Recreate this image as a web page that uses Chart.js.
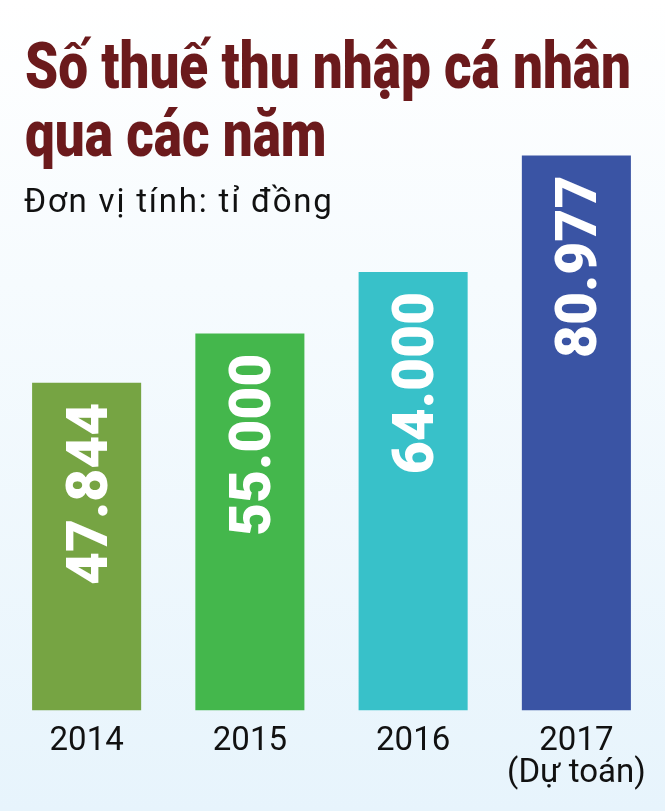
<!DOCTYPE html>
<html lang="vi">
<head>
<meta charset="utf-8">
<title>Số thuế thu nhập cá nhân qua các năm</title>
<script src="https://cdn.jsdelivr.net/npm/chart.js@4.4.1/dist/chart.umd.min.js"></script>
<style>
  html, body { margin: 0; padding: 0; }
  body {
    width: 665px;
    height: 811px;
    overflow: hidden;
    position: relative;
    background: linear-gradient(#ffffff 0%, #f6fbfe 35%, #e7f4fc 100%);
  }
  #title {
    position: absolute;
    left: 25px;
    top: 33px;
    margin: 0;
    font-family: Roboto, sans-serif;
    font-weight: 900;
    font-size: 64px;
    line-height: 68px;
    color: #6b1a1c;
    white-space: nowrap;
    transform-origin: 0 0;
  }
  #subtitle {
    position: absolute;
    left: 24px;
    top: 185px;
    margin: 0;
    font-family: Roboto, sans-serif;
    font-size: 33px;
    line-height: 32px;
    letter-spacing: 1.8px;
    color: #111;
    white-space: nowrap;
  }
  #myChart { position: absolute; left: 0; top: 0; }
</style>
</head>
<body>
<canvas id="myChart" width="665" height="811"></canvas>
<h1 id="title"><span id="line1">Số thuế thu nhập cá nhân</span><br>qua các năm</h1>
<p id="subtitle">Đơn vị tính: tỉ đồng</p>
<script>
'use strict';

// năm (nhãn trục x, dòng thứ hai nếu có)
const years = ['2014', '2015', '2016', '2017'];
const notes = ['', '', '', '(Dự toán)'];
// số thuế TNCN, tỉ đồng
const amounts = [47844, 55000, 64000, 80977];
const barColors = ['#76a443', '#44b74c', '#38c1c9', '#3a54a4'];

// tiêu đề dùng font hẹp: ép dòng đầu vừa ~606px
const line1 = document.getElementById('line1');
const titleEl = document.getElementById('title');
titleEl.style.transform = 'scaleX(' + (606 / line1.getBoundingClientRect().width) + ')';

function formatVN(n) {
  return String(n).replace(/\B(?=(\d{3})+(?!\d))/g, '.');
}

const labels = years.map((y, i) => (notes[i] ? [y, notes[i]] : y));

// vẽ số liệu xoay dọc bên trong cột
const valueLabels = {
  id: 'valueLabels',
  afterDatasetsDraw(chart) {
    const ctx = chart.ctx;
    const meta = chart.getDatasetMeta(0);
    ctx.save();
    ctx.fillStyle = '#ffffff';
    ctx.font = '900 57px Roboto';
    ctx.textAlign = 'right';
    ctx.textBaseline = 'alphabetic';
    meta.data.forEach((bar, i) => {
      ctx.save();
      ctx.translate(bar.x + 20, bar.y + 20);
      ctx.rotate(-Math.PI / 2);
      ctx.fillText(formatVN(amounts[i]), 0, 0);
      ctx.restore();
    });
    ctx.restore();
  },
};

const ctx = document.getElementById('myChart');

new Chart(ctx, {
  type: 'bar',
  data: {
    labels: labels,
    datasets: [
      {
        data: amounts,
        backgroundColor: barColors,
        borderWidth: 0,
        categoryPercentage: 1,
        barPercentage: 0.668,
      },
    ],
  },
  options: {
    responsive: false,
    animation: false,
    devicePixelRatio: 1,
    layout: {
      padding: { left: 5, right: 7, top: 128, bottom: 7 },
    },
    plugins: {
      legend: { display: false },
      tooltip: { enabled: false },
    },
    scales: {
      x: {
        grid: { display: false, drawTicks: false },
        border: { display: false },
        ticks: {
          color: '#111111',
          padding: 14.7,
          maxRotation: 0,
          autoSkip: false,
          font: { family: 'Roboto', size: 33, lineHeight: 0.97 },
        },
      },
      y: {
        display: false,
        min: 0,
        max: 85000,
      },
    },
  },
  plugins: [valueLabels],
});
</script>
</body>
</html>
